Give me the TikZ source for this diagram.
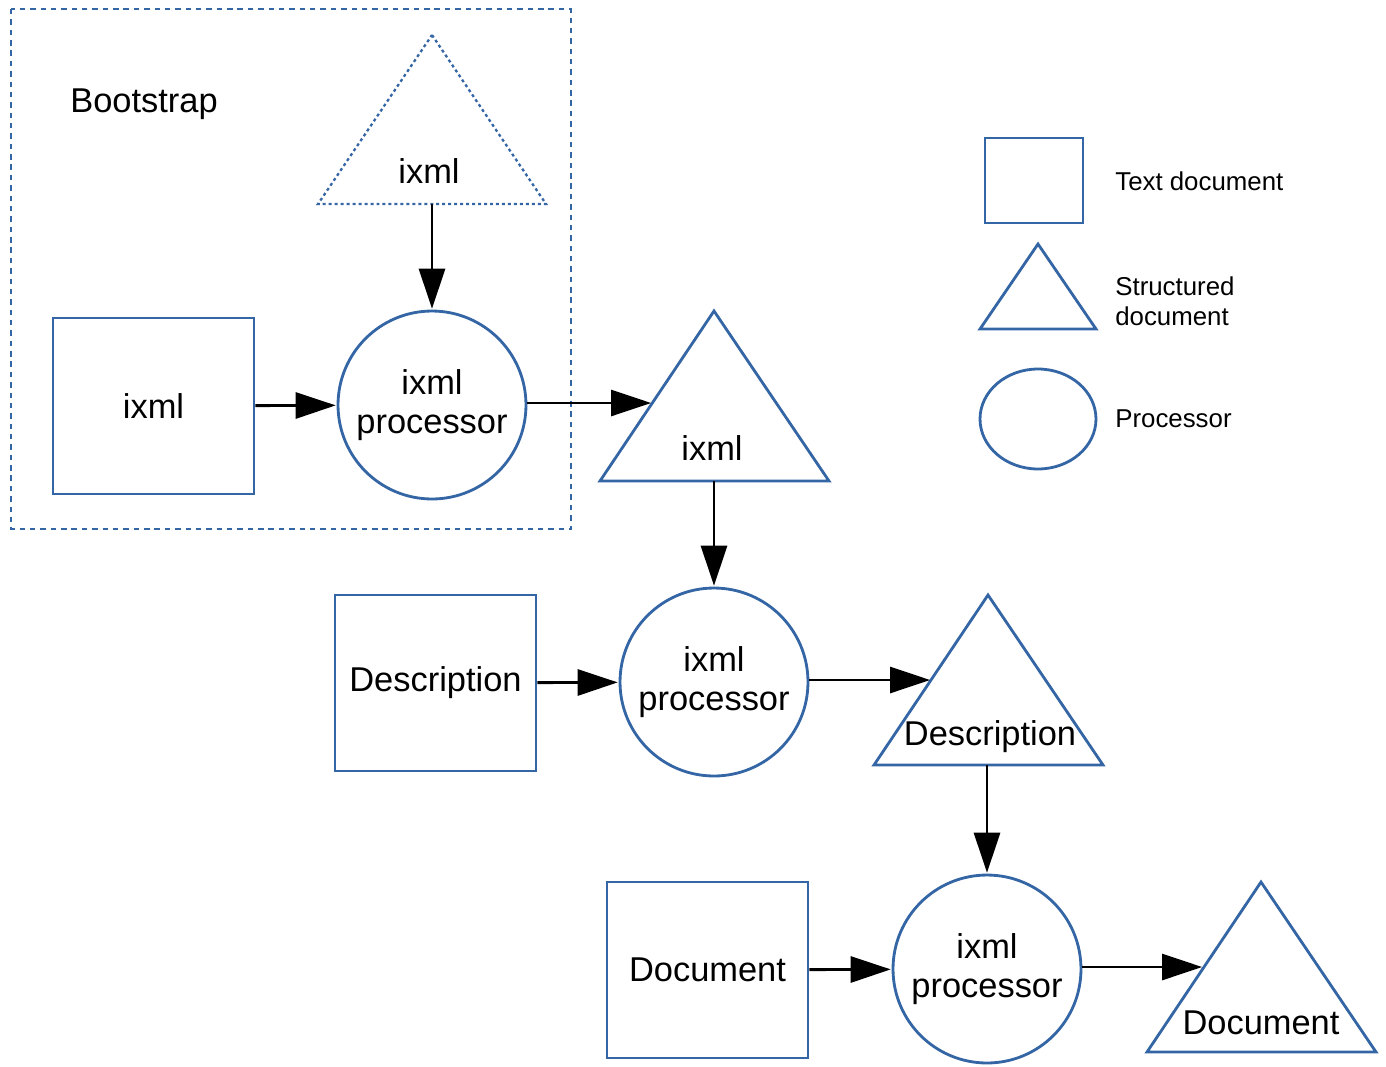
\documentclass[tikz,border=0pt]{standalone}
\usepackage{fontspec}
\setmainfont{Liberation Sans}
\usetikzlibrary{arrows.meta, shapes.geometric, positioning}
\definecolor{lineblue}{HTML}{3465A4}
\tikzset{
    docbox/.style={draw=lineblue, line width=1.6pt, rectangle, minimum width=4.02cm, minimum height=3.52cm, inner sep=0pt, font=\fontsize{19.6}{23}\selectfont},
    proc/.style={draw=lineblue, line width=1.6pt, circle, minimum size=3.76cm, inner sep=0pt, align=center, font=\fontsize{19.6}{22}\selectfont},
    tri/.style={draw=lineblue, line width=1.6pt, line join=miter},
    dottri/.style={draw=lineblue, line width=1.3pt, dash pattern=on 1.7pt off 1.7pt},
    frame/.style={draw=lineblue, line width=1.6pt, dash pattern=on 3.1pt off 2.8pt},
    bigtext/.style={inner sep=0pt, font=\fontsize{19.6}{23}\selectfont},
    legtext/.style={inner sep=0pt, anchor=west, align=left, font=\fontsize{14.7}{17}\selectfont},
    flow/.style={draw, black, line width=1.6pt, -{Triangle[length=22.8pt, width=14.8pt]}, shorten >=0.5pt}
}
\begin{document}
\begin{tikzpicture}[x=0.02cm, y=-0.02cm]
    \useasboundingbox (0,0) rectangle (1386,1066);
    % bootstrap frame
    \draw[frame] (11,9) rectangle (571,529);
    \node[bigtext] (boot) at (144,104) {Bootstrap};
    \coordinate (p1) at (432,35);
    \coordinate (p2) at (318,204);
    \coordinate (p3) at (546,204);
    \draw[dottri] (p1) -- (p3) -- (p2) -- cycle;
    \node[bigtext] (t1) at (429,171) {ixml};
    \coordinate (t1b) at (432,204);
    \node[docbox] (b1) at (153.5,406) {ixml};
    \node[proc] (c1) at (432,405) {ixml\\processor};
    \coordinate (q1) at (714,311);
    \coordinate (q2) at (600,481);
    \coordinate (q3) at (829,481);
    \draw[tri] (q1) -- (q3) -- (q2) -- cycle;
    \node[bigtext] (t2) at (712,448) {ixml};
    \coordinate (t2in) at (652,403);
    \coordinate (t2b) at (714,481);
    % second stage
    \node[docbox] (b2) at (435.5,683) {Description};
    \node[proc] (c2) at (714,682) {ixml\\processor};
    \coordinate (r1) at (988,595);
    \coordinate (r2) at (874,765);
    \coordinate (r3) at (1103,765);
    \draw[tri] (r1) -- (r3) -- (r2) -- cycle;
    \node[bigtext] (t3) at (990,737) {Description};
    \coordinate (t3in) at (931,680);
    \coordinate (t3b) at (987,765);
    % third stage
    \node[docbox] (b3) at (707.5,970) {Document};
    \node[proc] (c3) at (987,969) {ixml\\processor};
    \coordinate (s1) at (1261,882);
    \coordinate (s2) at (1147,1052);
    \coordinate (s3) at (1376,1052);
    \draw[tri] (s1) -- (s3) -- (s2) -- cycle;
    \node[bigtext] (t4) at (1261,1023) {Document};
    \coordinate (t4in) at (1203,967);
    % connectors
    \draw[flow] (t1b) -- (c1);
    \draw[flow] (b1) -- (c1);
    \draw[flow] (c1.east |- t2in) -- (t2in);
    \draw[flow] (t2b) -- (c2);
    \draw[flow] (b2) -- (c2);
    \draw[flow] (c2.east |- t3in) -- (t3in);
    \draw[flow] (t3b) -- (c3);
    \draw[flow] (b3) -- (c3);
    \draw[flow] (c3.east |- t4in) -- (t4in);
    % legend
    \node[draw=lineblue, line width=1.6pt, minimum width=1.96cm, minimum height=1.7cm, inner sep=0pt] (lbox) at (1034,180.5) {};
    \coordinate (l1) at (1038,244);
    \coordinate (l2) at (980,329);
    \coordinate (l3) at (1096,329);
    \draw[tri] (l1) -- (l3) -- (l2) -- cycle;
    \node[draw=lineblue, line width=1.6pt, ellipse, minimum width=2.32cm, minimum height=2cm, inner sep=0pt] (lell) at (1038,419) {};
    \node[legtext] (ltext1) at (1115,181) {Text document};
    \node[legtext] (ltext2) at (1115,301) {Structured\\document};
    \node[legtext] (ltext3) at (1115,419) {Processor};
\end{tikzpicture}
\end{document}
